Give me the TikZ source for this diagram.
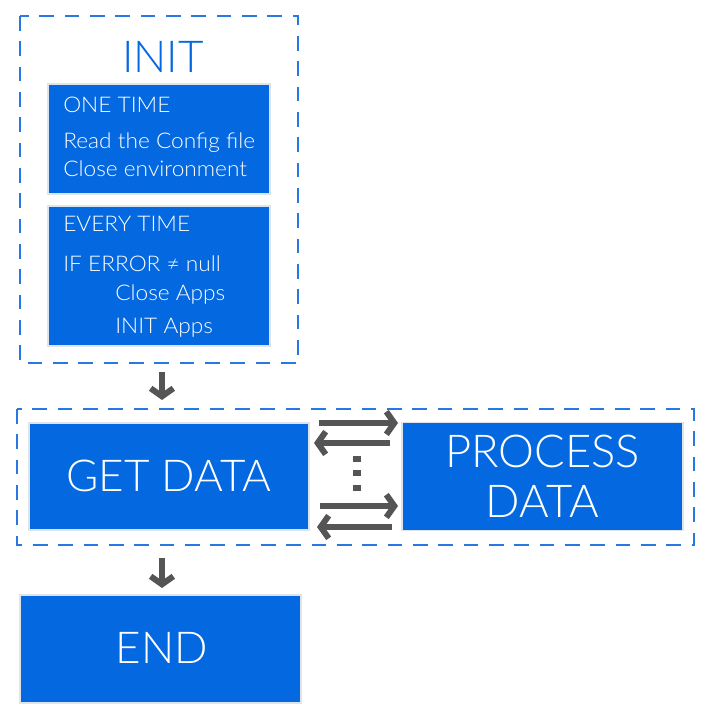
\documentclass[tikz,border=0pt]{standalone}
\usepackage{fontspec}
\setmainfont{Lato}[UprightFont=* Light]
\newfontfamily\smallfam{Lato}[UprightFont=* Light, FakeStretch=1.05]
\usetikzlibrary{arrows.meta}
\definecolor{boxblue}{RGB}{4,104,224}
\definecolor{dashblue}{RGB}{40,120,228}
\definecolor{arrowgray}{RGB}{85,85,85}
\definecolor{halo}{RGB}{222,228,236}
\tikzset{
  frame/.style={draw=dashblue, line width=1.1pt, dash pattern=on 11pt off 8pt},
  bluebox/.style={fill=boxblue, draw=halo, line width=1pt},
  flow/.style={draw=arrowgray, line width=4.5pt, -{Straight Barb[length=6pt,width=17pt,line width=4.5pt]}},
  small/.style={text=white, font=\smallfam\fontsize{16.2pt}{19pt}\selectfont, anchor=base west, inner sep=0pt},
  big/.style={text=white, font=\fontsize{33pt}{38pt}\selectfont, inner sep=0pt},
  dotmark/.style={fill=arrowgray, minimum width=6pt, minimum height=5pt, inner sep=0pt},
}
\begin{document}
\begin{tikzpicture}[x=0.75pt,y=-0.75pt]
\useasboundingbox (0,0) rectangle (712,720);
% INIT frame
\draw[frame] (20,16) rectangle (298,363);
\node[text=boxblue, font=\fontsize{33pt}{38pt}\selectfont, inner sep=0pt] (init) at (163,57) {INIT};
\draw[bluebox] (48,84) rectangle (270,194);
\node[small] (one) at (63,113) {ONE TIME};
\node[small] (read) at (63,149) {Read the Config file};
\node[small] (closeenv) at (63,177) {Close environment};
\draw[bluebox] (48,206) rectangle (270,346);
\node[small] (every) at (63,232) {EVERY TIME};
\node[small] (iferr) at (63,271) {IF ERROR ≠ null};
\node[small] (closeapps) at (115,300) {Close Apps};
\node[small] (initapps) at (115,333) {INIT Apps};
% middle frame
\draw[frame] (17,409) rectangle (694,545);
\node[bluebox, minimum width=210pt, minimum height=80.25pt, inner sep=0pt] (get) at (169,476.5) {};
\node[big] (gett) at (169,476) {GET DATA};
\node[bluebox, minimum width=210.75pt, minimum height=81pt, inner sep=0pt] (proc) at (542.5,476.5) {};
\node[big, align=center, font=\fontsize{34pt}{37.5pt}\selectfont] (proct) at (542.5,476) {PROCESS\\DATA};
% END
\node[bluebox, minimum width=210.75pt, minimum height=81pt, inner sep=0pt] (end) at (160.5,649) {};
\node[big] (endt) at (162,648) {END};
% arrows
\coordinate (a1s) at (162,372);
\coordinate (a1e) at (162,400);
\draw[flow] (a1s) -- (a1e);
\coordinate (a2s) at (162,558);
\coordinate (a2e) at (162,588);
\draw[flow] (a2s) -- (a2e);
\coordinate (r1s) at (319,423);
\coordinate (r1e) at (398,423);
\draw[flow] (r1s) -- (r1e);
\coordinate (l1s) at (390,443);
\coordinate (l1e) at (314,443);
\draw[flow] (l1s) -- (l1e);
\coordinate (r2s) at (320,506);
\coordinate (r2e) at (398,506);
\draw[flow] (r2s) -- (r2e);
\coordinate (l2s) at (392,527);
\coordinate (l2e) at (317,527);
\draw[flow] (l2s) -- (l2e);
\node[dotmark] (d1) at (357,459) {};
\node[dotmark] (d2) at (357,473) {};
\node[dotmark] (d3) at (357,488) {};
\end{tikzpicture}
\end{document}
